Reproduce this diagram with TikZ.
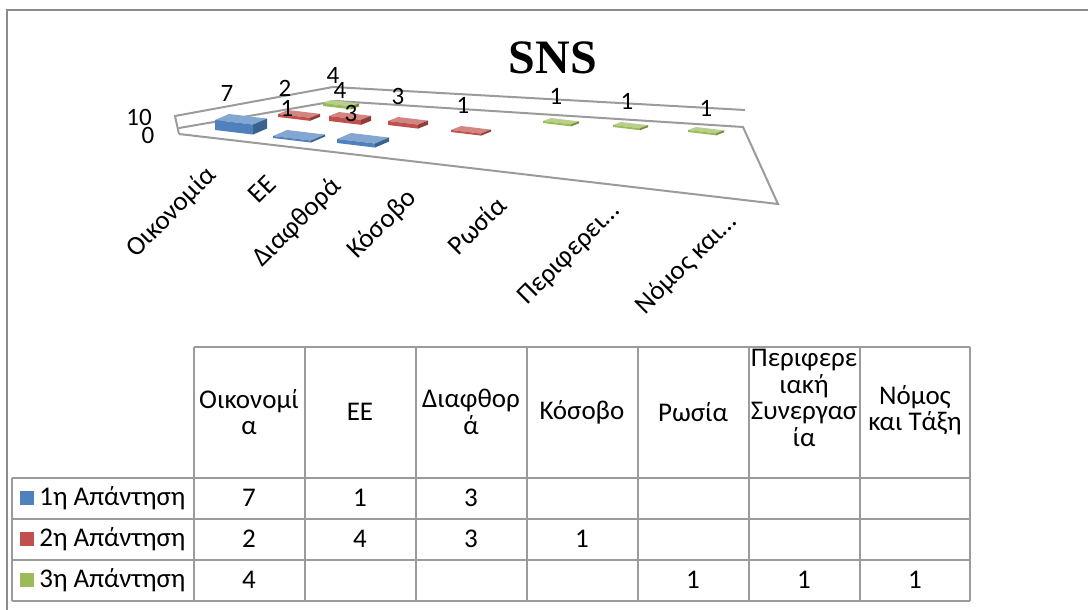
\documentclass[tikz,border=0pt]{standalone}
\usepackage{fontspec}
\setmainfont{Carlito}
\newfontfamily\titlefont{Liberation Serif}

\definecolor{serA}{RGB}{79,129,189}
\definecolor{serB}{RGB}{192,80,77}
\definecolor{serC}{RGB}{155,187,89}
\definecolor{framegray}{RGB}{140,140,140}
\definecolor{wallgray}{RGB}{155,155,155}

% flat 3d bar: x, y (front-left top), width, height, depth dx, depth dy, colour
\newcommand{\chartslab}[7]{%
  \fill[#7!70!white] (#1,#2) -- ++(#3,{0.12*#3}) -- ++(#5,-#6) -- ++(-#3,{-0.12*#3}) -- cycle;
  \fill[#7] (#1,#2) -- ++(#3,{0.12*#3}) -- ++(0,#4) -- ++(-#3,{-0.12*#3}) -- cycle;
  \fill[#7!75!black] ({#1+#3},{#2+0.12*#3}) -- ++(#5,-#6) -- ++(0,#4) -- ++(-#5,#6) -- cycle;
}

\begin{document}
\begin{tikzpicture}[x=0.5pt,y=-0.5pt,
  wall/.style={draw=wallgray,line width=1pt},
  tab/.style={draw=wallgray,line width=0.9pt},
  lbl/.style={font=\fontsize{12.5}{14}\selectfont,inner sep=1pt},
  catlbl/.style={font=\fontsize{13.5}{15}\selectfont,anchor=east,rotate=45,inner sep=1pt},
  cell/.style={font=\fontsize{13.5}{13.2}\selectfont,align=center,inner sep=0pt}]
  \useasboundingbox (0,0) rectangle (1088,610);

  % outer frame
  \draw[framegray,line width=1.2pt] (1088,10) -- (7,10) -- (7,610);

  % title
  \node[font=\titlefont\bfseries\fontsize{24}{26}\selectfont] (title) at (553,58) {SNS};

  % walls and floor
  \coordinate (sfl) at (175,116);
  \coordinate (sbl) at (333,87);
  \coordinate (sbr) at (745,110);
  \coordinate (ffl) at (179,134);
  \coordinate (fil) at (179,128);
  \coordinate (fbl) at (336,101);
  \coordinate (fbr) at (743,127);
  \coordinate (ffr) at (778,204);
  \draw[wall] (ffl) -- (sfl) -- (sbl) -- (sbr);
  \draw[wall] (fil) -- (fbl) -- (fbr) -- (ffr) -- (ffl);

  \node[lbl] (ax10) at (139,117) {10};
  \node[lbl] (ax0) at (148,135) {0};

  % 3η
  \chartslab{323}{103}{28}{3}{8}{3}{serC}
  \chartslab{543}{121}{28}{2}{8}{3}{serC}
  \chartslab{613}{125}{27}{2}{8}{3}{serC}
  \chartslab{688}{130}{28}{2}{8}{3}{serC}
  % 2η
  \chartslab{278}{114}{32}{3}{10}{4}{serB}
  \chartslab{329}{116}{32}{5}{10}{4}{serB}
  \chartslab{388}{121}{30}{4}{10}{4}{serB}
  \chartslab{451}{130}{30}{2}{10}{4}{serB}
  % 1η
  \chartslab{215}{120}{38}{10}{14}{6}{serA}
  \chartslab{273}{136}{38}{2}{14}{6}{serA}
  \chartslab{337}{139}{38}{4}{14}{6}{serA}

  % data labels
  \node[lbl] (v1a) at (227,93) {7};
  \node[lbl] (v1b) at (287,108) {1};
  \node[lbl] (v1c) at (351,113) {3};
  \node[lbl] (v2a) at (285,88) {2};
  \node[lbl] (v2b) at (340,90) {4};
  \node[lbl] (v2c) at (398,96) {3};
  \node[lbl] (v2d) at (463,105) {1};
  \node[lbl] (v3a) at (333,75) {4};
  \node[lbl] (v3e) at (556,96) {1};
  \node[lbl] (v3f) at (627,101) {1};
  \node[lbl] (v3g) at (706,108) {1};

  % category axis
  \node[catlbl] (c1) at (214,170) {Οικονομία};
  \node[catlbl] (c2) at (273,178) {ΕΕ};
  \node[catlbl] (c3) at (339,181) {Διαφθορά};
  \node[catlbl] (c4) at (414,193) {Κόσοβο};
  \node[catlbl] (c5) at (503,199) {Ρωσία};
  \node[catlbl] (c6) at (618,206) {Περιφερει…};
  \node[catlbl] (c7) at (734,216) {Νόμος και…};

  % data table
  \foreach \x in {194,305,416,527,638,749,860,970}
    \draw[tab] (\x,347) -- (\x,601);
  \foreach \y in {478,519,560,601}
    \draw[tab] (12,\y) -- (970,\y);
  \draw[tab] (194,347) -- (970,347);
  \draw[tab] (12,478) -- (12,601);

  \node[cell] (h1) at (249,412) {Οικονομί\\α};
  \node[cell] (h2) at (360,412) {ΕΕ};
  \node[cell] (h3) at (471,412) {Διαφθορ\\ά};
  \node[cell] (h4) at (582,412) {Κόσοβο};
  \node[cell] (h5) at (693,412) {Ρωσία};
  \node[cell] (h6) at (804,398) {Περιφερε\\ιακή\\Συνεργασ\\ία};
  \node[cell] (h7) at (915,410) {Νόμος\\και Τάξη};

  \foreach \c/\y [count=\i] in {serA/498,serB/539,serC/580}{
    \fill[\c] (20,\y-7) rectangle (34,\y+7);
    \node[cell,anchor=west] (leg\i) at (39,\y) {{\i}η Απάντηση};
  }

  \foreach \x/\y/\v [count=\k] in {249/498/7,360/498/1,471/498/3,
      249/539/2,360/539/4,471/539/3,582/539/1,
      249/580/4,693/580/1,804/580/1,915/580/1}
    \node[cell] (d\k) at (\x,\y) {\v};
\end{tikzpicture}
\end{document}
